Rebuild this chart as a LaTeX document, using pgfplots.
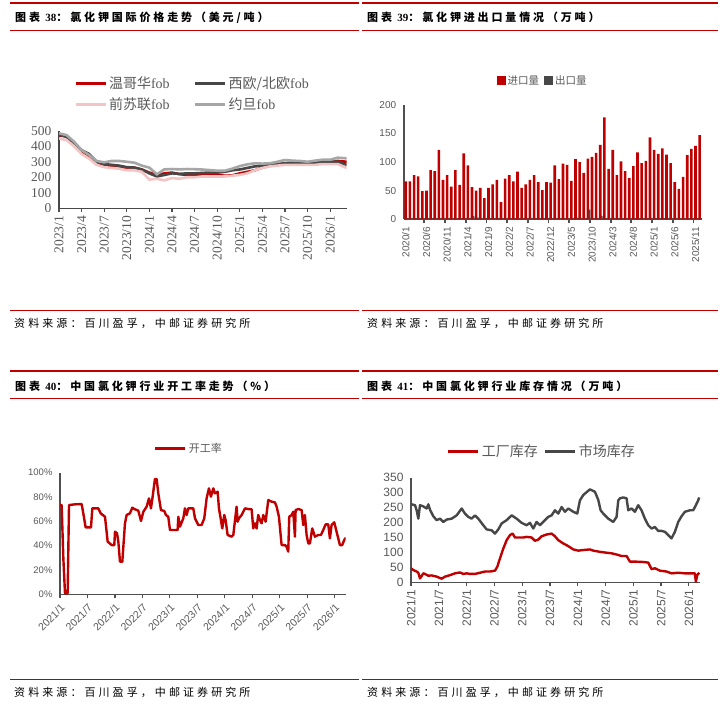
\documentclass[border=0pt]{standalone}
\usepackage{fontspec}
\usepackage{pgfplots}
\pgfplotsset{compat=1.18}
\usepackage{pgfplotstable}
\setmainfont{Liberation Sans}
\newfontfamily\cjk{Noto Sans CJK SC}
\newfontfamily\serif{Liberation Serif}

\definecolor{cred}{HTML}{C00000}
\definecolor{cdark}{HTML}{474747}
\definecolor{cpink}{HTML}{F2C4C4}
\definecolor{clgray}{HTML}{A6A6A6}
\definecolor{txtgray}{HTML}{595959}
\definecolor{axgray}{HTML}{505050}

\newcommand\paneltitle[2]{{\cjk\bfseries\fontsize{11}{11}\selectfont\addfontfeatures{LetterSpace=26}图表 {\serif\bfseries #1}：#2}}
\newcommand\srctext{{\cjk\fontsize{11}{11}\selectfont\addfontfeatures{LetterSpace=28}资料来源：百川盈孚，中邮证券研究所}}

% price, USD/t, month index from 2023/1
\pgfplotstableread{
m van weu ussr jor
0 470 475 450 483
1 465 460 440 472
2 420 420 400 429
3 365 375 350 375
4 330 350 320 343
5 290 300 280 305
6 270 285 265 296
7 275 280 260 305
8 270 275 255 305
9 260 265 245 300
10 262 262 245 294
11 250 250 235 275
12 230 225 185 262
13 215 205 190 219
14 225 215 180 251
15 230 225 195 253
16 220 222 190 251
17 215 225 200 253
18 215 225 200 252
19 218 228 205 250
20 220 230 205 246
21 215 230 205 242
22 210 235 205 242
23 212 245 210 255
24 225 250 215 272
25 235 260 225 283
26 245 270 245 290
27 262 275 260 288
28 275 280 270 290
29 280 285 275 300
30 290 290 280 311
31 285 295 280 307
32 290 295 280 305
33 285 292 280 300
34 290 295 280 307
35 295 300 285 313
36 295 300 285 313
37 305 300 285 326
38.2 300 280 260 322
}\pricetab

% imports / exports, 10kt, 2020/1 .. 2025/12
\pgfplotstableread{
i imp exp
0 66 1.5
1 66 1.5
2 77 1.5
3 75 1.5
4 49 1.5
5 50 1.5
6 86 1.5
7 84 1.5
8 121 1.5
9 69 1.5
10 77 1.5
11 57 1.5
12 86 1.5
13 60 1.5
14 115 1.5
15 94 1.5
16 56 6
17 50 3
18 55 1.5
19 37 1.5
20 55 1.5
21 61 1.5
22 69 1.5
23 30 1.5
24 71 1.5
25 77 1.5
26 66 1.5
27 83 1.5
28 55 1.5
29 61 1.5
30 69 1.5
31 77 1.5
32 65 1.5
33 51 1.5
34 65 1.5
35 64 1.5
36 94 1.5
37 70 1.5
38 97 1.5
39 95 1.5
40 67 1.5
41 105 3
42 100 1.5
43 81 1.5
44 106 17
45 109 1.5
46 116 1.5
47 130 6
48 178 1.5
49 88 1.5
50 121 1.5
51 77 1.5
52 101 1.5
53 84 1.5
54 72 1.5
55 93 1.5
56 117 1.5
57 98 1.5
58 102 1.5
59 143 1.5
60 121 1.5
61 114 1.5
62 124 1.5
63 113 1.5
64 98 1.5
65 65 1.5
66 53 1.5
67 74 1.5
68 112 1.5
69 123 1.5
70 128 1.5
71 147 1.5
}\bartab

% operating rate, %, month index from 2021/1
\pgfplotstableread{
m r
0 73.4
0.36 73.4
0.73 29.6
1.09 0.8
1.67 0.8
1.97 73.4
3.28 74.0
4.73 74.2
5.09 66.6
5.60 55.1
6.77 55.1
7.06 70.7
8.37 70.7
8.88 66.6
9.83 63.8
10.41 43.3
11.28 40.5
11.86 40.5
12.01 51.5
12.45 50.1
12.74 43.3
13.10 26.8
13.61 26.8
14.19 58.4
14.56 65.2
15.28 66.6
15.79 71.2
16.38 69.9
17.10 68.8
17.69 60.3
18.20 67.9
18.92 72.1
19.43 78.9
19.87 70.7
20.23 80.3
20.74 94.8
21.11 94.8
21.47 83.0
22.05 69.3
22.78 68.5
23.14 65.2
23.65 63.8
24.02 52.9
25.11 52.9
25.69 52.9
25.84 63.8
26.20 55.6
26.93 62.5
27.29 70.7
27.66 65.2
28.02 70.7
29.11 70.7
29.48 62.5
30.20 57.0
30.93 57.0
31.51 62.5
32.02 78.9
32.53 87.1
32.97 80.3
33.48 87.1
33.84 83.0
34.43 84.4
34.72 70.7
35.15 61.1
35.44 54.2
35.88 65.2
36.17 61.1
36.61 48.8
37.48 47.4
37.85 48.8
38.57 72.1
38.79 59.7
39.08 62.5
39.67 65.2
40.39 70.7
41.12 70.1
41.85 69.9
42.21 54.2
42.58 58.4
42.94 54.2
43.30 65.2
43.67 61.1
44.03 58.4
44.40 65.2
44.91 59.7
45.49 77.5
46.22 76.2
46.94 75.6
47.31 72.1
47.82 63.8
48.40 40.5
49.13 40.5
49.49 39.2
49.85 35.1
50.07 63.8
50.58 65.2
50.95 67.9
51.31 47.4
51.46 69.3
52.04 70.1
52.77 69.3
53.13 57.0
53.49 65.2
53.86 48.8
54.22 41.9
54.59 41.9
55.09 54.2
55.68 47.4
56.40 48.8
56.99 48.8
57.50 52.9
58.01 57.5
58.59 57.5
58.95 46.0
59.32 57.0
59.90 59.2
60.41 51.5
61.14 40.5
61.64 40.5
62.08 44.7
62.45 46.6
}\ratetab

% factory inventory, 10kt
\pgfplotstableread{
m v
0 47
0.50 41
1.22 36
1.58 32
1.94 13
2.30 21
2.66 30
3.02 28
3.74 22
4.46 23
5.54 19
6.62 12
7.34 19
8.42 24
9.50 30
10.58 33
11.29 28
12.01 30
12.73 28
13.81 28
14.89 32
15.97 36
17.05 36
18.13 39
18.63 52
19.21 80
19.93 113
20.65 141
21.37 158
21.94 163
22.45 150
23.17 150
24.24 150
24.96 152
26.04 150
26.76 139
27.48 143
28.20 154
29.28 160
30.36 163
31.08 154
31.80 141
32.88 130
33.96 121
35.04 110
36.12 106
37.19 108
38.63 110
39.35 106
40.79 102
42.23 99
43.31 97
44.39 93
45.47 88
46.55 88
47.27 69
48.71 69
50.14 68
51.22 66
51.94 44
52.66 47
53.74 39
55.18 36
56.26 30
57.70 32
59.14 30
60.22 30
61.29 30
61.51 2
61.80 24
62.23 32
}\factab

% market inventory, 10kt
\pgfplotstableread{
m v
0 261
0.14 261
0.86 258
1.22 241
1.58 213
1.94 258
2.66 254
3.38 247
3.74 261
4.10 243
4.82 221
5.54 208
6.26 213
6.98 202
7.70 210
8.78 213
9.86 224
10.94 247
11.65 230
12.37 219
13.09 213
13.81 224
14.53 213
15.61 191
16.33 177
17.41 174
18.13 163
18.85 177
19.57 197
20.65 208
21.73 224
22.81 213
23.88 199
24.96 191
25.68 199
26.40 180
27.12 202
27.84 191
28.92 208
29.64 219
30.36 224
31.08 241
31.80 230
32.52 252
33.24 236
33.96 247
35.04 236
35.90 230
36.47 274
37.19 292
38.63 311
39.71 303
40.43 276
40.94 241
41.51 230
42.59 213
43.67 202
44.39 219
44.75 274
45.11 281
45.83 284
46.55 281
46.91 241
47.63 247
48.35 236
49.06 258
49.78 241
50.50 213
51.22 191
51.94 180
52.66 185
53.38 172
54.10 172
54.82 169
55.54 158
56.26 147
56.98 169
57.70 202
58.42 221
59.14 236
60.22 241
60.94 241
61.51 258
62.01 274
62.23 284
}\mkttab

\pgfplotsset{
  panel/.style={
    scale only axis, anchor=south west,
    axis x line*=bottom, axis y line*=left,
    axis line style={-, draw=axgray, line width=1.6pt},
    tick align=outside, major tick length=4pt,
    ytick style={draw=none},
    xtick style={draw=axgray, line width=1.2pt},
    tick label style={text=txtgray},
    legend style={draw=none, fill=none, text=txtgray, inner sep=0pt},
  },
  linelegend/.style={legend image code/.code={\draw[##1, line width=3pt] (0pt,0pt) -- (30pt,0pt);}},
}

\begin{document}
\begin{tikzpicture}
\fill[white] (0,0) rectangle (721pt,-707pt);
\useasboundingbox (0,0) rectangle (721pt,-707pt);

% header and footer rules
\foreach \xa/\xb in {10/359, 362/718}{
  \draw[cred, line width=2pt] (\xa pt,-2.7pt) -- (\xb pt,-2.7pt);
  \draw[cred, line width=0.9pt] (\xa pt,-30pt) -- (\xb pt,-30pt);
  \draw[cred, line width=0.9pt] (\xa pt,-310pt) -- (\xb pt,-310pt);
  \draw[cred, line width=2pt] (\xa pt,-371pt) -- (\xb pt,-371pt);
  \draw[cred, line width=0.9pt] (\xa pt,-398.3pt) -- (\xb pt,-398.3pt);
  \draw[cred, line width=0.9pt] (\xa pt,-679pt) -- (\xb pt,-679pt);
}
\node[anchor=base west, inner sep=0pt] at (15pt,-21.5pt) {\paneltitle{38}{氯化钾国际价格走势（美元/吨）}};
\node[anchor=base west, inner sep=0pt] at (367pt,-21.5pt) {\paneltitle{39}{氯化钾进出口量情况（万吨）}};
\node[anchor=base west, inner sep=0pt] at (15pt,-390pt) {\paneltitle{40}{中国氯化钾行业开工率走势（\%）}};
\node[anchor=base west, inner sep=0pt] at (367pt,-390pt) {\paneltitle{41}{中国氯化钾行业库存情况（万吨）}};
\node[anchor=base west, inner sep=0pt] at (14pt,-327pt) {\srctext};
\node[anchor=base west, inner sep=0pt] at (367pt,-327pt) {\srctext};
\node[anchor=base west, inner sep=0pt] at (14pt,-696pt) {\srctext};
\node[anchor=base west, inner sep=0pt] at (367pt,-696pt) {\srctext};

% panel 38: prices
\begin{axis}[panel, at={(59pt,-208.3pt)}, width=287.7pt, height=77.6pt,
  xmin=0, xmax=38.2, ymin=0, ymax=500,
  axis line style={draw=cdark, line width=1.3pt},
  xtick={0,3,...,36},
  xticklabels={2023/1,2023/4,2023/7,2023/10,2024/1,2024/4,2024/7,2024/10,2025/1,2025/4,2025/7,2025/10,2026/1},
  ytick={0,100,...,500}, yticklabels={0,100,200,300,400,500},
  tick label style={font=\serif\fontsize{13.5}{14}\selectfont},
  xticklabel style={rotate=90, anchor=east},
  legend columns=2, linelegend,
  legend style={at={(0.464,1.473)}, anchor=center, font=\fontsize{14}{16}\selectfont,
    row sep=4pt, /tikz/every even column/.append style={column sep=22pt}},
  legend cell align=left]
\addplot[cred, line width=2.6pt] table[x=m, y=van]{\pricetab};
\addlegendentry{\cjk 温哥华\serif fob}
\addplot[cdark, line width=2.6pt] table[x=m, y=weu]{\pricetab};
\addlegendentry{\cjk 西欧/北欧\serif fob}
\addplot[cpink, line width=2.6pt] table[x=m, y=ussr]{\pricetab};
\addlegendentry{\cjk 前苏联\serif fob}
\addplot[clgray, line width=2.6pt] table[x=m, y=jor]{\pricetab};
\addlegendentry{\cjk 约旦\serif fob}
\end{axis}

% panel 39: imports and exports
\begin{axis}[panel, at={(403.7pt,-219.3pt)}, width=298pt, height=114.6pt,
  xmin=-0.5, xmax=71.5, ymin=0, ymax=200,
  axis line style={line width=2.2pt},
  xtick={0,5,...,70},
  xticklabels={2020/1,2020/6,2020/11,2021/4,2021/9,2022/2,2022/7,2022/12,2023/5,2023/10,2024/3,2024/8,2025/1,2025/6,2025/11},
  xtick style={draw=none},
  extra x ticks={4.5,9.5,...,69.5}, extra x tick labels={},
  extra x tick style={xtick style={draw=axgray, line width=1.8pt}},
  ytick={0,50,...,200}, yticklabels={0,50,100,150,200},
  tick label style={font=\fontsize{10}{11}\selectfont},
  xticklabel style={rotate=90, anchor=east},
  legend columns=2,
  legend style={at={(0.466,1.207)}, anchor=center, font=\cjk\fontsize{10.5}{12}\selectfont,
    /tikz/every even column/.append style={column sep=3pt}}]
\addplot[ybar, fill=cred, draw=none, bar width=2.6pt, bar shift=0pt,
  legend image code/.code={\fill[cred] (0pt,-4.5pt) rectangle (9pt,4.5pt);}]
  table[x=i, y=imp]{\bartab};
\addlegendentry{进口量}
\addplot[ybar, fill=cdark, draw=none, bar width=1.6pt, bar shift=1.6pt,
  legend image code/.code={\fill[cdark] (0pt,-4.5pt) rectangle (9pt,4.5pt);}]
  table[x=i, y=exp]{\bartab};
\addlegendentry{出口量}
\end{axis}

% panel 40: operating rate
\begin{axis}[panel, at={(60pt,-594.3pt)}, width=285.7pt, height=121.6pt,
  xmin=0, xmax=62.4, ymin=0, ymax=100,
  xtick={0,6,...,60},
  xticklabels={2021/1,2021/7,2022/1,2022/7,2023/1,2023/7,2024/1,2024/7,2025/1,2025/7,2026/1},
  ytick={0,20,...,100}, yticklabels={0\%,20\%,40\%,60\%,80\%,100\%},
  yticklabel style={font=\fontsize{9.5}{11}\selectfont},
  xticklabel style={font=\fontsize{10.5}{12}\selectfont, rotate=45, anchor=north east},
  linelegend,
  legend style={at={(0.4515,1.197)}, anchor=center, font=\cjk\fontsize{11}{12}\selectfont}]
\addplot[cred, line width=2.4pt, line join=round] table[x=m, y=r]{\ratetab};
\addlegendentry{开工率}
\end{axis}

% panel 41: inventories
\begin{axis}[panel, at={(411pt,-582.3pt)}, width=289pt, height=104.6pt,
  xmin=0, xmax=62.4, ymin=0, ymax=350,
  xtick={0,6,...,60},
  xticklabels={2021/1,2021/7,2022/1,2022/7,2023/1,2023/7,2024/1,2024/7,2025/1,2025/7,2026/1},
  ytick={0,50,...,350}, yticklabels={0,50,100,150,200,250,300,350},
  tick label style={font=\fontsize{12}{13}\selectfont},
  xticklabel style={rotate=90, anchor=east},
  legend columns=2, linelegend,
  legend style={at={(0.453,1.255)}, anchor=center, font=\cjk\fontsize{14}{16}\selectfont,
    /tikz/every even column/.append style={column sep=4pt}}]
\addplot[cred, line width=2.4pt, line join=round] table[x=m, y=v]{\factab};
\addlegendentry{工厂库存}
\addplot[cdark, line width=2.4pt, line join=round] table[x=m, y=v]{\mkttab};
\addlegendentry{市场库存}
\end{axis}
\end{tikzpicture}
\end{document}
